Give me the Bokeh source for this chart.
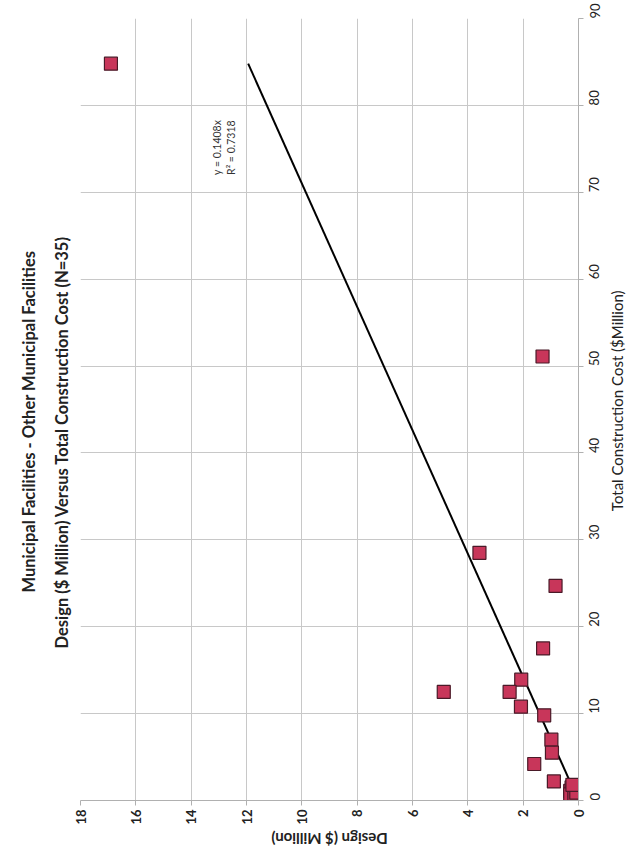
import math
from bokeh.plotting import figure
from bokeh.models import Range1d, LinearAxis, FixedTicker, Title, ColumnDataSource, Label
from bokeh.core.properties import value
from bokeh.embed import file_html
from bokeh.resources import INLINE

# Data: Total construction cost ($M) vs design fee ($M)
construction = [84.8, 51.1, 28.5, 24.7, 17.5, 13.9, 12.5, 12.5, 10.8, 9.8, 7.0, 5.5, 4.2, 2.2,
                0.3, 0.5, 0.6, 0.8, 0.9, 1.0, 1.1, 1.2, 1.3, 1.4, 1.5, 1.6, 1.7, 0.2, 0.4,
                0.7, 1.0, 1.2, 0.5, 0.9, 1.8]
design = [16.9, 1.3, 3.58, 0.83, 1.28, 2.07, 4.87, 2.49, 2.08, 1.24, 0.98, 0.96, 1.6, 0.89,
          0.05, 0.1, 0.02, 0.15, 0.25, 0.1, 0.3, 0.2, 0.05, 0.15, 0.25, 0.1, 0.2, 0.0, 0.2,
          0.3, 0.05, 0.12, 0.15, 0.08, 0.22]
slope = 0.1408
fit_label = ["y = 0.1408x", "R\u00b2 = 0.7318"]
design_ticks = [0, 2, 4, 6, 8, 10, 12, 14, 16, 18]
cost_ticks = [0, 10, 20, 30, 40, 50, 60, 70, 80, 90]
x_title = "Design ($ Million)"
y_title = "Total Construction Cost ($Million)"

FONT = "Lato"

p = figure(frame_width=498, frame_height=782,
           x_range=Range1d(18, 0), y_range=Range1d(0, 90),
           x_axis_location=None, y_axis_location=None,
           output_backend="svg", toolbar_location=None,
           min_border_left=80, min_border_right=52, min_border_top=18, min_border_bottom=56)
p.background_fill_color = "white"
p.border_fill_color = "white"
p.outline_line_color = None

# bottom axis (Design), rotated layout
xa = LinearAxis(ticker=FixedTicker(ticks=design_ticks))
xa.major_label_orientation = math.pi / 2
xa.major_label_text_font = FONT
xa.major_label_text_font_style = "bold"
xa.major_label_text_font_size = "13px"
xa.major_label_text_color = "#222222"
xa.axis_line_color = "#b0b0b0"
xa.major_tick_line_color = "#b0b0b0"
xa.major_tick_out = 5
xa.major_tick_in = 0
xa.minor_tick_line_color = None
xa.major_label_standoff = 4
p.add_layout(xa, "below")

# right axis (Total construction cost)
ya = LinearAxis(ticker=FixedTicker(ticks=cost_ticks))
ya.major_label_orientation = math.pi / 2
ya.major_label_text_font = FONT
ya.major_label_text_font_size = "13px"
ya.major_label_text_color = "#222222"
ya.axis_line_color = "#b0b0b0"
ya.major_tick_line_color = "#b0b0b0"
ya.major_tick_out = 5
ya.major_tick_in = 0
ya.minor_tick_line_color = None
ya.major_label_standoff = 11
p.add_layout(ya, "right")

# axis titles, rotated with the chart (centred on the frame), placed in side panels
p.add_layout(Label(x=9.0, y=-4.4, text=x_title, angle=math.pi,
                   text_align="center", text_baseline="middle",
                   text_font=FONT, text_font_size="15px", text_font_style="bold",
                   text_color="#222222"), "below")
p.add_layout(Label(x=-1.38, y=46.0, text=y_title, angle=math.pi / 2,
                   text_align="center", text_baseline="middle",
                   text_font=FONT, text_font_size="15px", text_color="#222222"), "right")

p.xgrid.ticker = FixedTicker(ticks=design_ticks)
p.ygrid.ticker = FixedTicker(ticks=cost_ticks)
for g in (p.xgrid, p.ygrid):
    g.grid_line_color = "#c8c8c8"
    g.grid_line_width = 1

# titles on the left (first added is nearest the frame)
t2 = Title(text="Design  ($ Million) Versus Total Construction Cost  (N=35)", align="left",
           offset=152, text_font=FONT, text_font_size="16.5px", text_font_style="bold",
           text_color="#222222", standoff=18)
t1 = Title(text="Municipal Facilities - Other Municipal Facilities", align="left",
           offset=208, text_font=FONT, text_font_size="16.5px", text_font_style="bold",
           text_color="#222222", standoff=4)
p.add_layout(t2, "left")
p.add_layout(t1, "left")

# regression line
cmax = max(construction)
line_src = ColumnDataSource(dict(x=[0, slope * cmax], y=[0, cmax]))
p.line("x", "y", source=line_src, line_color="black", line_width=2)

# points
src = ColumnDataSource(dict(x=design, y=construction))
p.scatter("x", "y", source=src, marker="square", size=13,
          fill_color="#c8365a", line_color="#4a1a28", line_width=1.2)

# fit label
p.text(x=[13.05, 12.55], y=[72.0, 72.0], text=fit_label, angle=math.pi / 2,
       text_font=value(FONT), text_font_size="10.5px", text_color="#333333",
       text_align="left", text_baseline="middle")

open("out.html", "w").write(file_html(p, INLINE))
